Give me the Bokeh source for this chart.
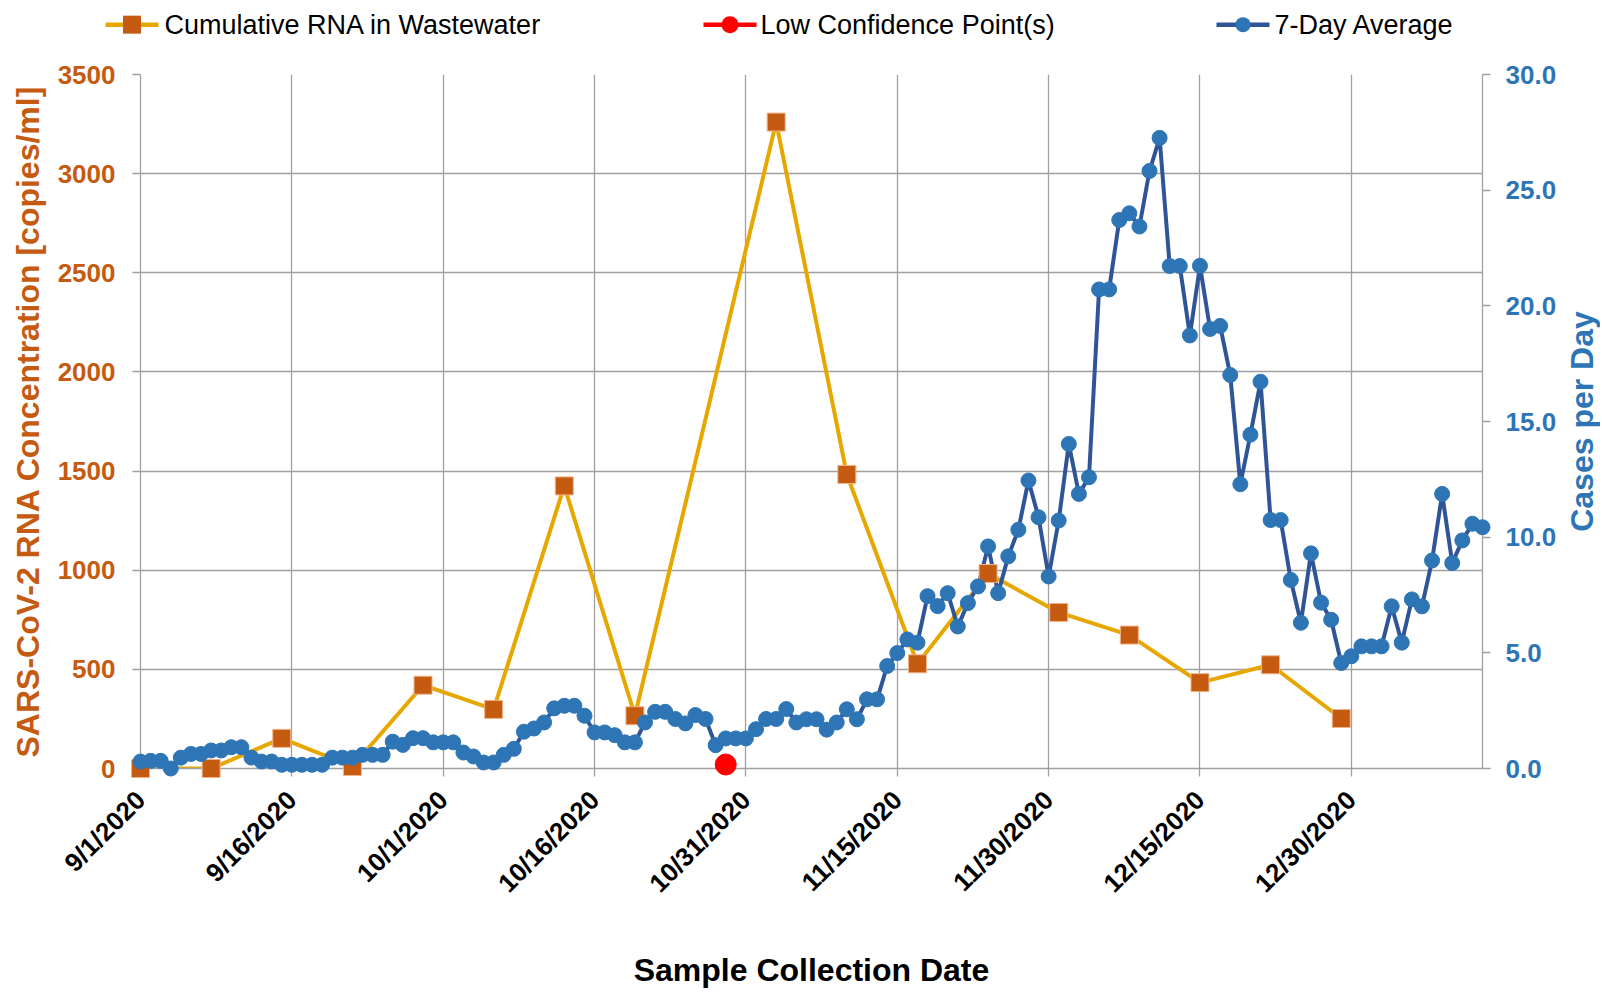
import math
import pandas as pd
from bokeh.plotting import figure
from bokeh.models import LinearAxis, Range1d, FixedTicker, NumeralTickFormatter
from bokeh.core.properties import value
from bokeh.embed import file_html
from bokeh.resources import INLINE

# ---------------- data ----------------
x_start = "2020-09-01"
x_end = "2021-01-12"

rna_dates = ["2020-09-01", "2020-09-08", "2020-09-15", "2020-09-22", "2020-09-29",
             "2020-10-06", "2020-10-13", "2020-10-20", "2020-11-03", "2020-11-10",
             "2020-11-17", "2020-11-24", "2020-12-01", "2020-12-08", "2020-12-15",
             "2020-12-22", "2020-12-29"]
rna_values = [0, 0, 152, 10, 420, 298, 1425, 266, 3260, 1483, 528, 983, 787, 673,
              433, 523, 252]

low_conf_dates = ["2020-10-29"]
low_conf_values = [20]

case_start = "2020-09-01"
case_values = [
    # September
    0.30, 0.33, 0.33, 0.00, 0.47, 0.63, 0.63, 0.78, 0.78, 0.92,
    0.92, 0.47, 0.30, 0.30, 0.16, 0.16, 0.16, 0.16, 0.16, 0.47,
    0.47, 0.47, 0.59, 0.59, 0.59, 1.16, 1.02, 1.31, 1.31, 1.13,
    # October
    1.13, 1.13, 0.69, 0.52, 0.26, 0.26, 0.59, 0.85, 1.59, 1.73,
    1.99, 2.60, 2.71, 2.71, 2.28, 1.56, 1.56, 1.44, 1.13, 1.13,
    1.99, 2.45, 2.45, 2.14, 1.95, 2.31, 2.14, 1.01, 1.30, 1.30,
    1.30,
    # November
    1.70, 2.14, 2.14, 2.57, 1.99, 2.13, 2.13, 1.68, 1.99, 2.56,
    2.13, 2.99, 2.99, 4.43, 4.99, 5.58, 5.44, 7.45, 7.02, 7.58,
    6.14, 7.15, 7.87, 9.60, 7.58, 9.17, 10.32, 12.45, 10.86, 8.30,
    # December
    10.72, 14.03, 11.87, 12.59, 20.71, 20.71, 23.71, 24.00, 23.43, 25.83,
    27.26, 21.72, 21.72, 18.72, 21.73, 19.00, 19.13, 17.01, 12.29, 14.43,
    16.72, 10.74, 10.74, 8.15, 6.30, 9.30, 7.17, 6.43, 4.56, 4.85,
    5.28,
    # January
    5.28, 5.28, 7.01, 5.44, 7.31, 7.01, 8.99, 11.87, 8.88, 9.86,
    10.58, 10.43,
]

tick_dates = ["2020-09-01", "2020-09-16", "2020-10-01", "2020-10-16", "2020-10-31",
              "2020-11-15", "2020-11-30", "2020-12-15", "2020-12-30"]
tick_labels = ["9/1/2020", "9/16/2020", "10/1/2020", "10/16/2020", "10/31/2020",
               "11/15/2020", "11/30/2020", "12/15/2020", "12/30/2020"]
left_ticks = [0, 500, 1000, 1500, 2000, 2500, 3000, 3500]
right_ticks = [0, 5, 10, 15, 20, 25, 30]

legend_labels = ["Cumulative RNA in Wastewater", "Low Confidence Point(s)", "7-Day Average"]

# ---------------- helpers ----------------
t0 = pd.Timestamp(x_start)


def day(d):
    return (pd.Timestamp(d) - t0).days


rna_x = [day(d) for d in rna_dates]
low_x = [day(d) for d in low_conf_dates]
case_x = [day(d) for d in pd.date_range(case_start, periods=len(case_values), freq="D")]
tick_x = [day(d) for d in tick_dates]
X_MAX = day(x_end)
Y_MAX = left_ticks[-1]

ORANGE = "#C55A11"
GOLD = "#E6A800"
BLUE_M = "#2E75B6"
BLUE_L = "#2F5597"
RED = "#FF0000"
GRID = "#A0A0A0"
FONT = "Liberation Sans"

W, H = 1600, 990
BL, BR, BT, BB = 140, 118, 74, 220          # frame borders (px)
FW, FH = W - BL - BR, H - BT - BB


def dx(px):
    """canvas x pixel -> data x (used only for titles / legend placement)"""
    return (px - BL) * X_MAX / FW


def dy(py):
    """canvas y pixel (from top) -> left-axis data y"""
    return (BT + FH - py) * Y_MAX / FH


p = figure(width=W, height=H, output_backend="svg", toolbar_location=None,
           x_range=Range1d(0, X_MAX), y_range=Range1d(0, Y_MAX),
           min_border_left=BL, min_border_right=BR, min_border_top=BT,
           min_border_bottom=BB, background_fill_color="white",
           border_fill_color="white")
p.outline_line_color = None
p.extra_y_ranges = {"cases": Range1d(0, right_ticks[-1])}

# grids
p.xgrid.ticker = FixedTicker(ticks=tick_x)
p.ygrid.ticker = FixedTicker(ticks=left_ticks)
for g in (p.xgrid, p.ygrid):
    g.grid_line_color = GRID
    g.grid_line_width = 1.3


def style_axis(ax, color):
    ax.major_label_text_font = FONT
    ax.major_label_text_font_size = "26px"
    ax.major_label_text_font_style = "bold"
    ax.major_label_text_color = color
    ax.axis_label_text_font = FONT
    ax.axis_label_text_font_size = "32px"
    ax.axis_label_text_font_style = "bold"
    ax.axis_label_text_color = color
    ax.major_tick_out = 8
    ax.major_tick_in = 0
    ax.minor_tick_out = 0
    ax.minor_tick_in = 0
    ax.axis_line_color = GRID
    ax.major_tick_line_color = GRID
    ax.axis_line_width = 1.3
    ax.major_tick_line_width = 1.3


# bottom axis
xa = p.xaxis[0]
style_axis(xa, "black")
xa.ticker = FixedTicker(ticks=tick_x)
xa.major_label_overrides = {t: l for t, l in zip(tick_x, tick_labels)}
xa.major_label_orientation = math.pi / 4
xa.major_label_standoff = 19
xa.axis_label = "Sample Collection Date"
xa.axis_label_standoff = 40

# left axis
ya = p.yaxis[0]
style_axis(ya, ORANGE)
ya.ticker = FixedTicker(ticks=left_ticks)
ya.major_label_standoff = 17
ya.axis_label = "SARS-CoV-2 RNA Concentration [copies/ml]"
ya.axis_label_standoff = 9

# right axis
ra = LinearAxis(y_range_name="cases", ticker=FixedTicker(ticks=right_ticks),
                formatter=NumeralTickFormatter(format="0.0"))
style_axis(ra, BLUE_M)
ra.major_label_standoff = 15
p.add_layout(ra, "right")

# right axis title, reading bottom-to-top (drawn as an unclipped overlay text)
p.text(x=[dx(1581)], y=[dy(BT + FH / 2)], text=["Cases per Day"], angle=math.pi / 2,
       text_align="center", text_baseline="middle", text_font=value(FONT),
       text_font_size="32px", text_font_style="bold", text_color=BLUE_M,
       level="overlay")

# ---------------- series ----------------
p.line(rna_x, rna_values, line_color=GOLD, line_width=4)
p.line(case_x, case_values, line_color=BLUE_L, line_width=4, y_range_name="cases")

p.scatter(rna_x, rna_values, marker="square", size=18, fill_color=ORANGE,
          line_color="#F2B48A", line_width=1, level="overlay")
p.scatter(low_x, low_conf_values, marker="circle", size=21, fill_color=RED,
          line_color=RED, level="overlay")
p.scatter(case_x, case_values, marker="circle", size=15, fill_color=BLUE_M,
          line_color=BLUE_M, y_range_name="cases", level="overlay")

# ---------------- legend (above the plot area) ----------------
leg_line_x0 = [105, 703, 1216]      # px
leg_text_x = [164, 760, 1274]       # px
leg_len = 53
leg_cy = 24
leg_line_colors = [GOLD, RED, BLUE_L]
leg_marker_colors = [ORANGE, RED, BLUE_M]
leg_marker_sq = [True, False, False]
leg_sizes = [18, 17, 15]

for i, lab in enumerate(legend_labels):
    x0 = leg_line_x0[i]
    cx = x0 + leg_len / 2
    p.line([dx(x0), dx(x0 + leg_len)], [dy(leg_cy), dy(leg_cy)],
           line_color=leg_line_colors[i], line_width=4.5, level="overlay")
    s = leg_sizes[i]
    if leg_marker_sq[i]:
        p.line([dx(cx - s / 2), dx(cx + s / 2)], [dy(leg_cy), dy(leg_cy)],
               line_color=leg_marker_colors[i], line_width=s, line_cap="butt",
               level="overlay")
    else:
        p.line([dx(cx - 0.05), dx(cx + 0.05)], [dy(leg_cy), dy(leg_cy)],
               line_color=leg_marker_colors[i], line_width=s, line_cap="round",
               level="overlay")
    p.text(x=[dx(leg_text_x[i])], y=[dy(leg_cy)], text=[lab], text_align="left",
           text_baseline="middle", text_font=value(FONT), text_font_size="27px",
           text_color="black", level="overlay")

open("out.html", "w").write(file_html(p, INLINE))
